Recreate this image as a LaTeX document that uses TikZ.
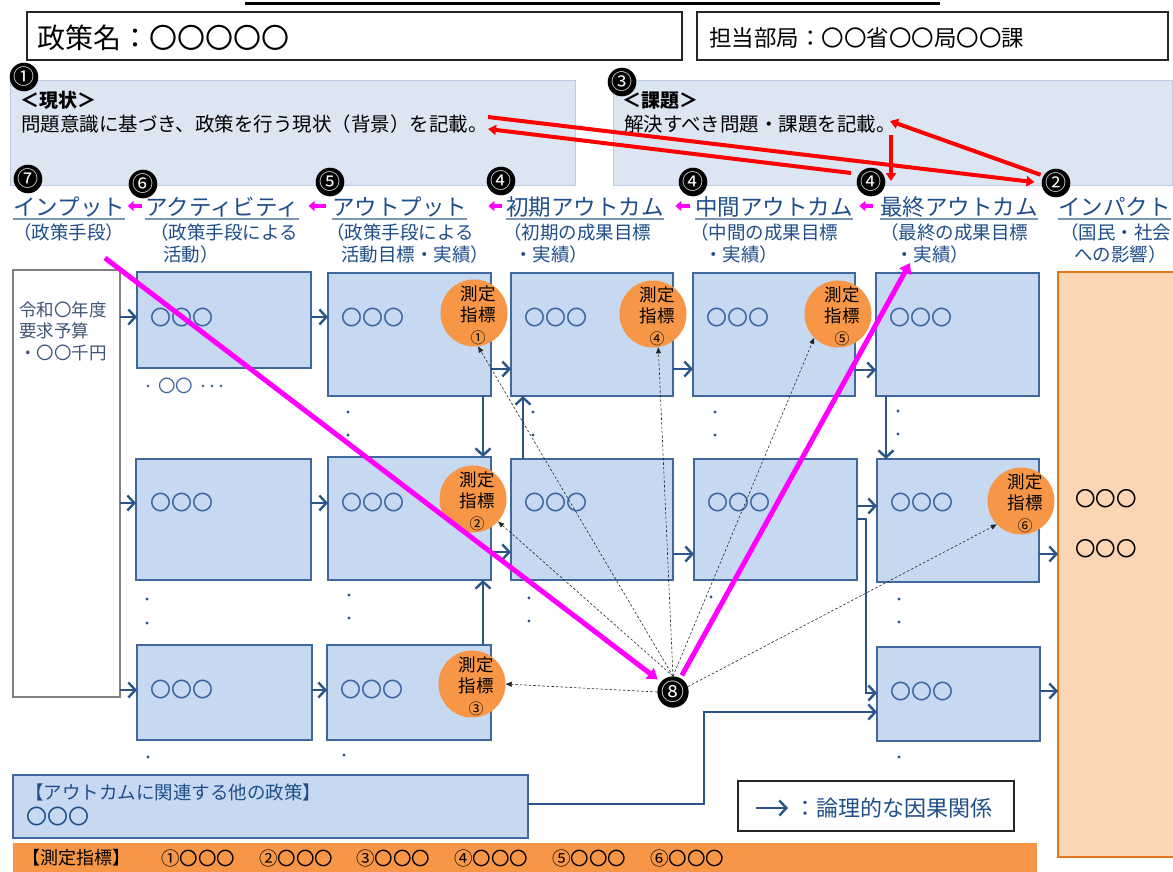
\documentclass[tikz,border=0pt]{standalone}
\usepackage{fontspec}
\setmainfont{Noto Sans CJK JP}
\usetikzlibrary{arrows.meta,calc}
\definecolor{bluefill}{HTML}{C6D9F1}
\definecolor{blueedge}{HTML}{41689C}
\definecolor{topfill}{HTML}{DCE6F2}
\definecolor{topedge}{HTML}{B9CDE5}
\definecolor{orng}{HTML}{F79646}
\definecolor{peach}{HTML}{FCD5B5}
\definecolor{peachedge}{HTML}{E4761E}
\definecolor{headblue}{HTML}{1F4E89}
\definecolor{arrowblue}{HTML}{2C5489}
\definecolor{circtext}{HTML}{3C64A0}
\definecolor{intext}{HTML}{3F5577}
\definecolor{inedge}{HTML}{7F7F7F}
\definecolor{ulinec}{HTML}{7F93B2}
\definecolor{magen}{HTML}{FF00FF}
\definecolor{redl}{HTML}{FF0000}
\newcommand\mkbox[6]{\node[#1, minimum width={#5-#3}, minimum height={#6-#4}] (#2) at ({(#3+#5)/2},{(#4+#6)/2}) {};}
\newcommand\ctext[6]{\node[anchor=base west, inner sep=0pt, text=#2, font=\fontsize{#3}{#3}\selectfont] (#1) at (#4,{#5+0.38*#3}) {#6};}
\newcommand\indic[4]{%
 \node[indc] (#1) at (#2,#3) {};
 \node[anchor=base, inner sep=0pt, font=\fontsize{17.5}{17.5}\selectfont] (#1t) at ({#2+4},{#3-19+6.65}) {測定};
 \node[anchor=base, inner sep=0pt, font=\fontsize{17.5}{17.5}\selectfont] (#1u) at ({#2+4},{#3+2+6.65}) {指標};
 \node[anchor=base, inner sep=0pt, font=\fontsize{15}{15}\selectfont] (#1v) at ({#2+4},{#3+25+5.7}) {#4};}
\begin{document}
\begin{tikzpicture}[x=1pt,y=-1pt,
  tbox/.style={draw=black!85, line width=1.4pt, fill=white, inner sep=0pt, outer sep=0pt},
  topbox/.style={draw=topedge, line width=1pt, fill=topfill, inner sep=0pt, outer sep=0pt},
  bbox/.style={draw=blueedge, line width=1.3pt, fill=bluefill, inner sep=0pt, outer sep=0pt},
  inbox/.style={draw=inedge, line width=2pt, fill=white, inner sep=0pt, outer sep=0pt},
  impbox/.style={draw=peachedge, line width=1.5pt, fill=peach, inner sep=0pt, outer sep=0pt},
  barbox/.style={draw=none, fill=orng, inner sep=0pt, outer sep=0pt},
  legbox/.style={draw=black!85, line width=1.4pt, fill=white, inner sep=0pt, outer sep=0pt},
  uline/.style={draw=ulinec, line width=1.1pt},
  barrow/.style={draw=arrowblue, line width=2.4pt, -{Straight Barb[length=7pt,width=15pt,line width=2.4pt]}},
  marrowS/.style={draw=magen, line width=4pt, -{Triangle[length=6pt,width=10pt]}},
  mline/.style={draw=magen, line width=5pt, -{Triangle[length=10pt,width=13pt]}},
  rline/.style={draw=redl, line width=4pt, -{Triangle[length=8pt,width=10pt]}},
  dline/.style={draw=black!85, line width=0.6pt, dash pattern=on 2.5pt off 2pt, -{Triangle[length=6pt,width=5pt]}},
  bnum/.style={circle, fill=black, text=white, inner sep=0pt, minimum size=25pt, font=\fontsize{21}{21}\selectfont},
  bnumL/.style={circle, fill=black, text=white, inner sep=0pt, minimum size=29pt, font=\fontsize{23}{23}\selectfont},
  indc/.style={circle, fill=orng, inner sep=0pt, minimum size=67pt},
  bdot/.style={fill=arrowblue},
]
\useasboundingbox (0,0) rectangle (1173,871);
\fill[white] (0,0) rectangle (1173,871);
% top line
\draw[line width=3pt] (245,3) -- (940,3);
% title boxes
\mkbox{tbox}{ttl}{27}{12}{682}{60}
\ctext{ttltx}{black}{28}{37}{38}{政策名：〇〇〇〇〇}
\mkbox{tbox}{dept}{697}{12}{1168}{60}
\ctext{depttx}{black}{22.5}{709}{37.5}{担当部局：〇〇省〇〇局〇〇課}
% situation / issue boxes
\mkbox{topbox}{genj}{10}{80}{575}{185}
\mkbox{topbox}{kadai}{613}{80}{1172}{185}
\ctext{genjh}{black}{19}{20}{100}{\bfseries ＜現状＞}
\ctext{genjtx}{black}{19.5}{21}{124}{問題意識に基づき、政策を行う現状（背景）を記載。}
\ctext{kadaih}{black}{19}{622}{100}{\bfseries ＜課題＞}
\ctext{kadaitx}{black}{19.5}{624}{124}{解決すべき問題・課題を記載。}
% headings
\ctext{hin}{headblue}{22.5}{13}{207}{インプット}
\ctext{hac}{headblue}{22.5}{145}{207}{アクティビティ}
\ctext{hout}{headblue}{22.5}{332}{207}{アウトプット}
\ctext{hini}{headblue}{22.5}{506}{207}{初期アウトカム}
\ctext{hmid}{headblue}{22.5}{695}{207}{中間アウトカム}
\ctext{hfin}{headblue}{22.5}{880}{207}{最終アウトカム}
\ctext{himp}{headblue}{22.5}{1058}{207}{インパクト}
\foreach \h in {hin,hac,hout,hini,hmid,hfin,himp}{\draw[uline] (\h.west |- 0,219) -- (\h.east |- 0,219);}
\draw[marrowS, shorten <=3pt, shorten >=2.5pt] (hac.west |- 0,206) -- (hin.east |- 0,206);
\draw[marrowS, shorten <=6pt, shorten >=9.5pt] (hout.west |- 0,206) -- (hac.east |- 0,206);
\draw[marrowS, shorten <=4pt, shorten >=21pt] (hini.west |- 0,206) -- (hout.east |- 0,206);
\draw[marrowS, shorten <=5pt, shorten >=11.5pt] (hmid.west |- 0,206) -- (hini.east |- 0,206);
\draw[marrowS, shorten <=7pt, shorten >=6.5pt] (hfin.west |- 0,206) -- (hmid.east |- 0,206);
% subtitles
\ctext{sin}{headblue}{18.5}{13}{232}{（政策手段）}
\ctext{sac}{headblue}{18.5}{150}{232}{（政策手段による}
\ctext{sac2}{headblue}{18.5}{163}{254}{活動）}
\ctext{sout}{headblue}{18.5}{326}{232}{（政策手段による}
\ctext{sout2}{headblue}{18.5}{341}{254}{活動目標・実績）}
\ctext{sini}{headblue}{18.5}{503}{232}{（初期の成果目標}
\ctext{sini2}{headblue}{18.5}{514}{254}{・実績）}
\ctext{smid}{headblue}{18.5}{690}{232}{（中間の成果目標}
\ctext{smid2}{headblue}{18.5}{704}{254}{・実績）}
\ctext{sfin}{headblue}{18.5}{880}{232}{（最終の成果目標}
\ctext{sfin2}{headblue}{18.5}{895}{254}{・実績）}
\ctext{simp}{headblue}{18.5}{1060}{232}{（国民・社会}
\ctext{simp2}{headblue}{18.5}{1074}{254}{への影響）}
% grid boxes
\mkbox{inbox}{inp}{13}{270}{120}{697}
\mkbox{bbox}{ac1}{137}{272}{311}{368}
\mkbox{bbox}{ac2}{136}{459}{311}{580}
\mkbox{bbox}{ac3}{137}{645}{312}{740}
\mkbox{bbox}{op1}{328}{273}{491}{396}
\mkbox{bbox}{op2}{328}{457}{491}{580}
\mkbox{bbox}{op3}{327}{645}{491}{740}
\mkbox{bbox}{ic1}{511}{273}{673}{396}
\mkbox{bbox}{ic2}{511}{459}{673}{580}
\mkbox{bbox}{mc1}{693}{273}{855}{396}
\mkbox{bbox}{mc2}{694}{459}{857}{580}
\mkbox{bbox}{fc1}{876}{273}{1039}{396}
\mkbox{bbox}{fc2}{877}{459}{1039}{582}
\mkbox{bbox}{fc3}{877}{647}{1040}{741}
\mkbox{impbox}{imp}{1058}{272}{1185}{857}
\mkbox{bbox}{pol}{13}{775}{528}{838}
\mkbox{barbox}{bar}{13}{843}{1037}{885}
\mkbox{legbox}{leg}{738}{781}{1014}{831}
% box texts
\ctext{inl1}{intext}{17.5}{19}{310}{令和〇年度}
\ctext{inl2}{intext}{17.5}{19}{331}{要求予算}
\ctext{inl3}{intext}{17.5}{19}{353}{・〇〇千円}
\ctext{tac1}{circtext}{21}{150}{318}{〇〇〇}
\ctext{tac2}{circtext}{21}{150}{503}{〇〇〇}
\ctext{tac3}{circtext}{21}{150}{690}{〇〇〇}
\ctext{top1}{circtext}{21}{341}{318}{〇〇〇}
\ctext{top2}{circtext}{21}{341}{503}{〇〇〇}
\ctext{top3}{circtext}{21}{340}{690}{〇〇〇}
\ctext{tic1}{circtext}{21}{524}{318}{〇〇〇}
\ctext{tic2}{circtext}{21}{524}{503}{〇〇〇}
\ctext{tmc1}{circtext}{21}{706}{318}{〇〇〇}
\ctext{tmc2}{circtext}{21}{707}{503}{〇〇〇}
\ctext{tfc1}{circtext}{21}{889}{318}{〇〇〇}
\ctext{tfc2}{circtext}{21}{890}{503}{〇〇〇}
\ctext{tfc3}{circtext}{21}{890}{692}{〇〇〇}
\ctext{acdots}{circtext}{17.5}{158}{386}{〇〇}
\foreach \x in {148,203,212,221}{\fill[bdot] (\x,386) circle (1.4);}
\ctext{impt1}{black}{20.5}{1075}{499}{〇〇〇}
\ctext{impt2}{black}{20.5}{1075}{549}{〇〇〇}
\ctext{polt1}{headblue}{18.5}{25}{792}{【アウトカムに関連する他の政策】}
\ctext{polt2}{headblue}{21}{26}{817}{〇〇〇}
\ctext{bart0}{black}{18}{22}{858}{【測定指標】}
\ctext{bart1}{black}{18.5}{161}{858}{①〇〇〇}
\ctext{bart2}{black}{18.5}{259}{858}{②〇〇〇}
\ctext{bart3}{black}{18.5}{356}{858}{③〇〇〇}
\ctext{bart4}{black}{18.5}{454}{858}{④〇〇〇}
\ctext{bart5}{black}{18.5}{552}{858}{⑤〇〇〇}
\ctext{bart6}{black}{18.5}{650}{858}{⑥〇〇〇}
\ctext{legt}{headblue}{22}{794}{808}{：論理的な因果関係}
% ellipsis dots
\foreach \x/\y in {348/412,348/435,533/412,533/435,715/412,715/435,898/411,898/434,
  147/599,147/623,349/595,349/618,529/598,529/621,711/597,711/620,899/599,899/622,
  148/757,344/755,899/757}{\fill[bdot] (\x,\y) circle (1.6);}
% blue arrows
\draw[barrow] (inp.east |- 0,317) -- (ac1.west |- 0,317);
\draw[barrow] (inp.east |- 0,503) -- (ac2.west |- 0,503);
\draw[barrow] (inp.east |- 0,690) -- (ac3.west |- 0,690);
\draw[barrow] (ac1.east |- 0,317) -- (op1.west |- 0,317);
\draw[barrow] (ac2.east |- 0,503) -- (op2.west |- 0,503);
\draw[barrow] (ac3.east |- 0,690) -- (op3.west |- 0,690);
\draw[barrow] (op1.east |- 0,369) -- (ic1.west |- 0,369);
\draw[barrow] (op2.east |- 0,552) -- (ic2.west |- 0,552);
\draw[barrow] (op1.south -| 483,0) -- (op2.north -| 483,0);
\draw[barrow] (op3.north -| 483,0) -- (op2.south -| 483,0);
\draw[barrow] (ic2.north -| 523,0) -- (ic1.south -| 523,0);
\draw[barrow] (ic1.east |- 0,369) -- (mc1.west |- 0,369);
\draw[barrow] (ic2.east |- 0,554) -- (mc2.west |- 0,554);
\draw[barrow] (mc1.east |- 0,370) -- (fc1.west |- 0,370);
\draw[barrow] (mc2.east |- 0,506) -- (fc2.west |- 0,506);
\draw[barrow] (mc2.east |- 0,519) -| (866,693) -- (fc3.west |- 0,693);
\draw[barrow] (fc1.south -| 886,0) -- (fc2.north -| 886,0);
\draw[barrow] (fc2.east |- 0,554) -- (imp.west |- 0,554);
\draw[barrow] (fc3.east |- 0,691) -- (imp.west |- 0,691);
\draw[barrow] (pol.east |- 0,804) -| (704,712) -- (fc3.west |- 0,712);
\coordinate (lg1) at (756,808);
\coordinate (lg2) at (788,808);
\draw[barrow] (lg1) -- (lg2);
% indicators
\indic{ind1}{474}{313}{①}
\indic{ind2}{473}{499}{②}
\indic{ind3}{472}{684}{③}
\indic{ind4}{653}{314}{④}
\indic{ind5}{838}{314}{⑤}
\indic{ind6}{1021}{501}{⑥}
% black numbers
\node[bnum] (n1) at (24,77) {①};
\node[bnum] (n3) at (622,82) {③};
\node[bnum] (n7) at (28,179) {⑦};
\node[bnum] (n6) at (143,184) {⑥};
\node[bnum] (n5) at (330,182) {⑤};
\node[bnum] (n4a) at (501,181) {④};
\node[bnum] (n4b) at (693,182) {④};
\node[bnum] (n4c) at (871,182) {④};
\node[bnum] (n2) at (1056,183) {②};
\node[bnumL] (o8) at (673,692) {⑧};
% dashed arrows
\draw[dline] (o8.north) -- (ind1.-83);
\draw[dline] (o8.north) -- (ind2.-42);
\draw[dline] (o8.west) -- (ind3.east);
\draw[dline] (o8.north) -- (ind4.-81);
\draw[dline] (o8.north) -- (ind5.-135);
\draw[dline] (o8.20) -- (ind6.-136);
% red lines
\coordinate (rA1) at ($(genjtx.east)+(0,-7)$);
\coordinate (rB2) at ($(genjtx.east)+(0,5)$);
\coordinate (rB1) at (851,173);
\coordinate (rC2) at (890,121);
\coordinate (rD1) at (891,135);
\coordinate (rD2) at (891,181);
\draw[rline, shorten >=7pt] (rA1) -- (n2.west);
\draw[rline] (rB1) -- (rB2);
\draw[rline, shorten <=3pt] (n2.150) -- (rC2);
\draw[rline] (rD1) -- (rD2);
% magenta lines
\coordinate (mg1) at (105,258);
\coordinate (mg2) at (910,263);
\draw[mline, shorten >=4pt] (mg1) -- (o8.140);
\draw[mline, shorten <=3pt] (o8.62) -- (mg2);
\end{tikzpicture}
\end{document}
